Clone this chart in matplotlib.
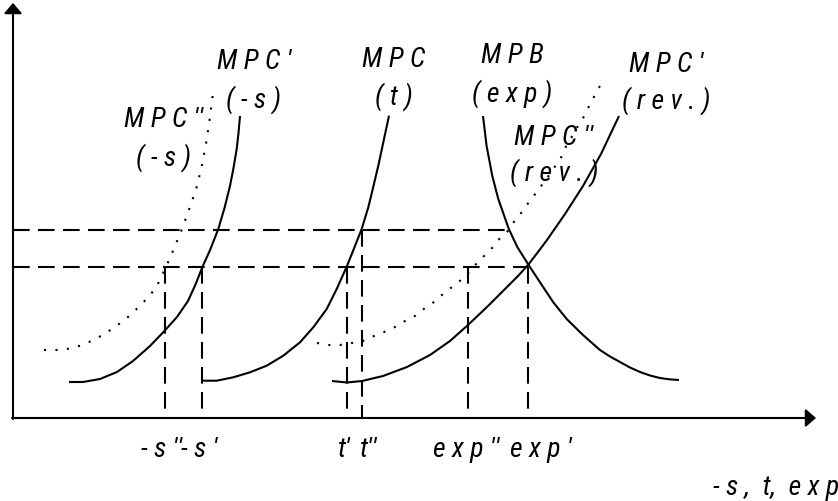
import numpy as np
import matplotlib
matplotlib.use("Agg")
import matplotlib.pyplot as plt
from matplotlib import font_manager as fm

# ---------------- data (origin = axis corner, 1 unit = 1 px) ----------------
# MPC''(-s)  dotted
mpc2_s_x = [31, 43, 54, 66, 76, 86, 96, 106, 115, 129, 143, 151, 157, 169, 178, 184, 189, 193, 196, 198, 200]
mpc2_s_y = [68, 68, 69, 72, 76, 81, 87, 94, 101, 114, 130, 147, 160, 189, 214, 232, 253, 274, 294, 309, 325]
# MPC'(-s)  solid
mpc1_s_x = [56, 70, 87, 104, 120, 137, 150, 164, 175, 182.5, 189.3, 197.5, 205.3, 211.5, 217, 220.5, 223.7, 225.5, 227]
mpc1_s_y = [36, 36, 39, 46, 57, 72, 85.5, 101, 117, 133.5, 150.7, 169, 189, 210, 232, 250, 269, 285, 302]
# MPC(t)  solid
mpc_t_x = [189.3, 203.7, 220.3, 237, 253.7, 270.3, 287, 300.3, 313.7, 323.7, 333.7, 341, 348.7, 355.3, 360, 365.3, 370.3, 376]
mpc_t_y = [37.3, 37.3, 40.7, 45.7, 52.3, 62.3, 75.7, 90.7, 109, 129, 151.3, 169.5, 189, 210.7, 230, 252.3, 275.7, 302.3]
# MPC'(rev.)  solid
mpc1_rev_x = [319, 334, 349, 370, 394, 417, 437, 455, 475, 495, 505, 515, 525, 534, 552, 570, 588, 606]
mpc1_rev_y = [37, 35.5, 37, 42, 51, 63, 77, 93, 112, 132, 142, 153, 166, 178, 204, 232, 264, 302]
# MPB(exp)  solid
mpb_x = [470, 473.6, 479.3, 485.3, 495.8, 504.3, 515, 527, 540.3, 553.7, 570, 587, 597, 607, 617, 627, 637, 647, 656, 666]
mpb_y = [302, 272, 242, 219, 189, 171, 154, 135.7, 115.7, 99, 83, 68, 61.5, 56, 50.5, 46, 42.5, 40, 38.7, 38]
# MPC''(rev.)  dotted
mpc2_rev_x = [304, 315, 327, 339, 350, 361, 371, 382, 392, 402, 412, 421, 430, 439, 448, 456, 464, 472,
              480, 487, 496, 502, 509, 516, 523, 537, 543, 549, 554, 560, 566, 572, 577, 582, 588]
mpc2_rev_y = [75, 73, 73, 75, 77, 82, 86, 91, 97, 102, 110, 116, 124, 131, 138, 146, 155, 163,
              171, 180, 188, 198, 206, 216, 225, 244, 253, 262, 274, 283, 294, 303, 314, 323, 334]

# reference levels
level_high = 188.3
level_low = 150.7
level_high_end = 496
level_low_end = 515

# quantities on the horizontal axis and the level each drop-line starts from
quantities = [151.5, 189.3, 333.7, 348.7, 454.7, 515]
quantity_levels = [level_low, level_low, level_low, level_high, level_low, level_low]
tick_labels = ["- s ''", "- s '", "t'", "t''", "e x p ''", "e x p '"]
tick_offsets = [-3, -3, -2, 7, -2, 13]

# curve labels: (line 1, line 2, x centre, baseline1, baseline2)
curve_labels = [
    ("M P C ''", "( - s )", 151, 292, 253),
    ("M P C '", "( - s )", 241, 350, 311),
    ("M P C", "( t )", 381, 352, 314),
    ("M P B", "( e x p )", 499, 356, 317),
    ("M P C '", "( r e v . )", 653, 347, 310),
    ("M P C ''", "( r e v . )", 541, 274, 238),
]
axis_title = "- s ,  t,  e x p"

# ---------------- fonts ----------------
names = {f.name for f in fm.fontManager.ttflist}
if "Liberation Sans Narrow" in names:
    FAM, FS = "Liberation Sans Narrow", 20
elif "Roboto Condensed" in names:
    FAM, FS = "Roboto Condensed", 20
else:
    FAM, FS = "Liberation Sans", 17
plt.rcParams["font.family"] = [FAM, "DejaVu Sans"]

# ---------------- figure ----------------
fig = plt.figure(figsize=(8.38, 5.02), dpi=100)
ax = fig.add_axes([0, 0, 1, 1])
ax.set_xlim(-13, 825)
ax.set_ylim(-83, 419)
ax.axis("off")

LW = 1.5
dash = (0, (8, 4))
dot = (0, (1, 4.5))

# curves
ax.plot(mpc2_s_x, mpc2_s_y, color="black", lw=LW, linestyle=dot, dash_capstyle="butt")
ax.plot(mpc1_s_x, mpc1_s_y, color="black", lw=LW, solid_capstyle="butt", solid_joinstyle="round")
ax.plot(mpc_t_x, mpc_t_y, color="black", lw=LW, solid_capstyle="butt", solid_joinstyle="round")
ax.plot(mpc1_rev_x, mpc1_rev_y, color="black", lw=LW, solid_capstyle="butt", solid_joinstyle="round")
ax.plot(mpb_x, mpb_y, color="black", lw=LW, solid_capstyle="butt", solid_joinstyle="round")
ax.plot(mpc2_rev_x, mpc2_rev_y, color="black", lw=LW, linestyle=dot, dash_capstyle="butt")

# horizontal dashed levels
ax.plot([0, level_high_end], [level_high, level_high], color="black", lw=LW, linestyle=dash)
ax.plot([0, level_low_end], [level_low, level_low], color="black", lw=LW, linestyle=dash)

# vertical dashed drop lines
for q, lv in zip(quantities, quantity_levels):
    ax.plot([q, q], [lv, 0], color="black", lw=LW, linestyle=dash)

# axes with arrows
arrow_kw = dict(arrowstyle="-|>,head_length=0.31,head_width=0.27", lw=LW, color="black",
                shrinkA=0, shrinkB=0, mutation_scale=20)
ax.annotate("", xy=(0, 415), xytext=(0, -1), arrowprops=arrow_kw)
ax.annotate("", xy=(803, 0), xytext=(-1, 0), arrowprops=arrow_kw)

# curve labels
for l1, l2, x, b1, b2 in curve_labels:
    ax.text(x, b1, l1, ha="center", va="baseline", fontsize=FS, style="italic")
    ax.text(x, b2, l2, ha="center", va="baseline", fontsize=FS, style="italic")

# tick labels
for q, lab, off in zip(quantities, tick_labels, tick_offsets):
    ax.text(q + off, -38, lab, ha="center", va="baseline", fontsize=FS, style="italic")

ax.text(826, -76, axis_title, ha="right", va="baseline", fontsize=FS, style="italic")

fig.savefig("out.png", dpi=100)
